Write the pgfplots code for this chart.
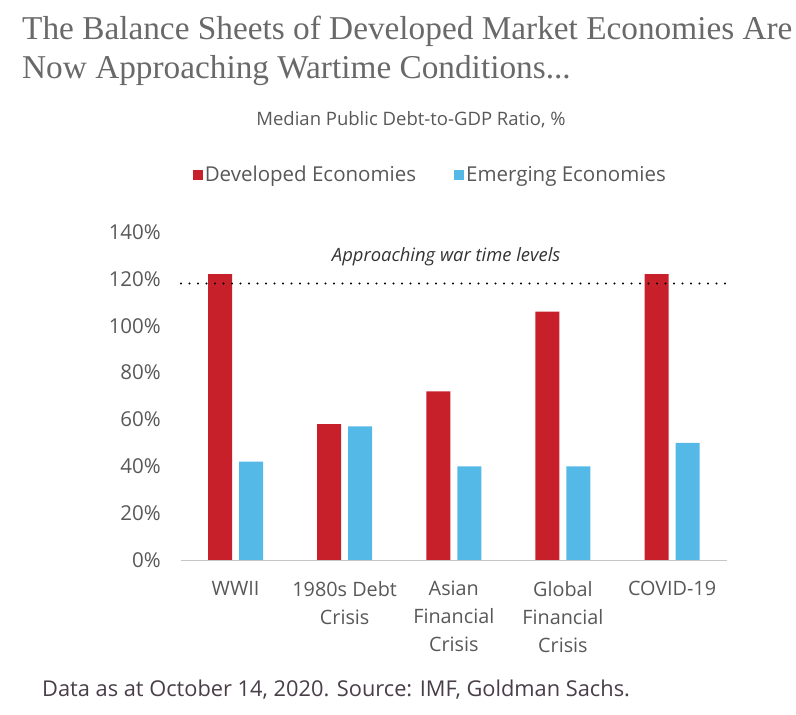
\documentclass[border=0pt]{standalone}
\usepackage{pgfplots}
\pgfplotsset{compat=1.18}
\usepackage{fontspec}
\setmainfont{Open Sans}
\newfontfamily\titlefont{Liberation Serif}
\definecolor{devred}{RGB}{200,32,42}
\definecolor{emblue}{RGB}{85,185,232}
\definecolor{txtgrey}{RGB}{88,88,88}
\definecolor{titlegrey}{RGB}{105,105,105}
\definecolor{footcol}{RGB}{72,62,72}
\begin{document}
\begin{tikzpicture}[x=1pt,y=1pt]
\path[use as bounding box] (0,0) rectangle (796,715);
\node[anchor=base west, inner sep=0, text=titlegrey, font=\titlefont\fontsize{33.3}{38}\selectfont] at (22,675) {The Balance Sheets of Developed Market Economies Are};
\node[anchor=base west, inner sep=0, text=titlegrey, font=\titlefont\fontsize{33.3}{38}\selectfont] at (22,636) {Now Approaching Wartime Conditions...};
\node[anchor=base, inner sep=0, text=txtgrey, font=\fontsize{18.5}{20}\selectfont] at (411,589) {Median Public Debt-to-GDP Ratio, \%};
\node[anchor=base west, inner sep=0, text=footcol, font=\fontsize{21.8}{24}\selectfont] at (42,18) {Data as at October 14, 2020. Source: IMF, Goldman Sachs.};
\begin{axis}[
  at={(181pt,155pt)}, anchor=south west, scale only axis,
  width=545.6pt, height=328pt,
  xmin=-0.5, xmax=4.5, ymin=0, ymax=140,
  ybar=7pt, bar width=24pt,
  axis x line*=bottom, axis y line*=left,
  x axis line style={draw=gray!45, -},
  y axis line style={draw=none},
  major tick length=0pt,
  ytick={0,20,...,140},
  yticklabel={\pgfmathprintnumber{\tick}\%},
  /pgf/number format/assume math mode=true,
  yticklabel style={font=\fontsize{20.5}{22}\selectfont, text=txtgrey, anchor=east, inner sep=0pt, xshift=-20pt},
  xtick={0,1,2,3,4},
  xticklabels={WWII, {1980s Debt\\Crisis}, {Asian\\Financial\\Crisis}, {Global\\Financial\\Crisis}, COVID-19},
  xticklabel style={font=\fontsize{19.8}{28}\selectfont, text=txtgrey, align=center, anchor=north, inner sep=0pt, yshift=-21pt},
  legend columns=2,
  legend style={at={(0.457,1.174)}, anchor=center, draw=none, fill=none,
    font=\fontsize{20.5}{22}\selectfont, text=txtgrey,
    /tikz/every even column/.append style={column sep=36pt},
    nodes={inner sep=2pt}},
  legend image code/.code={\fill[#1] (0pt,-5pt) rectangle (10pt,5pt);},
  clip=false,
]
\addplot[fill=devred, draw=none] coordinates {(0,122) (1,58) (2,72) (3,106) (4,122)};
\addlegendentry{Developed Economies}
\addplot[fill=emblue, draw=none] coordinates {(0,42) (1,57) (2,40) (3,40) (4,50)};
\addlegendentry{Emerging Economies}
\draw[black, line width=2.4pt, line cap=round, dash pattern=on 0pt off 8.5pt] (axis cs:-0.5,118) -- (axis cs:4.5,118);
\node[font=\itshape\fontsize{18.4}{20}\selectfont, text=black!80, anchor=base] at (axis cs:1.93,127.5) {Approaching war time levels};
\end{axis}
\end{tikzpicture}
\end{document}
